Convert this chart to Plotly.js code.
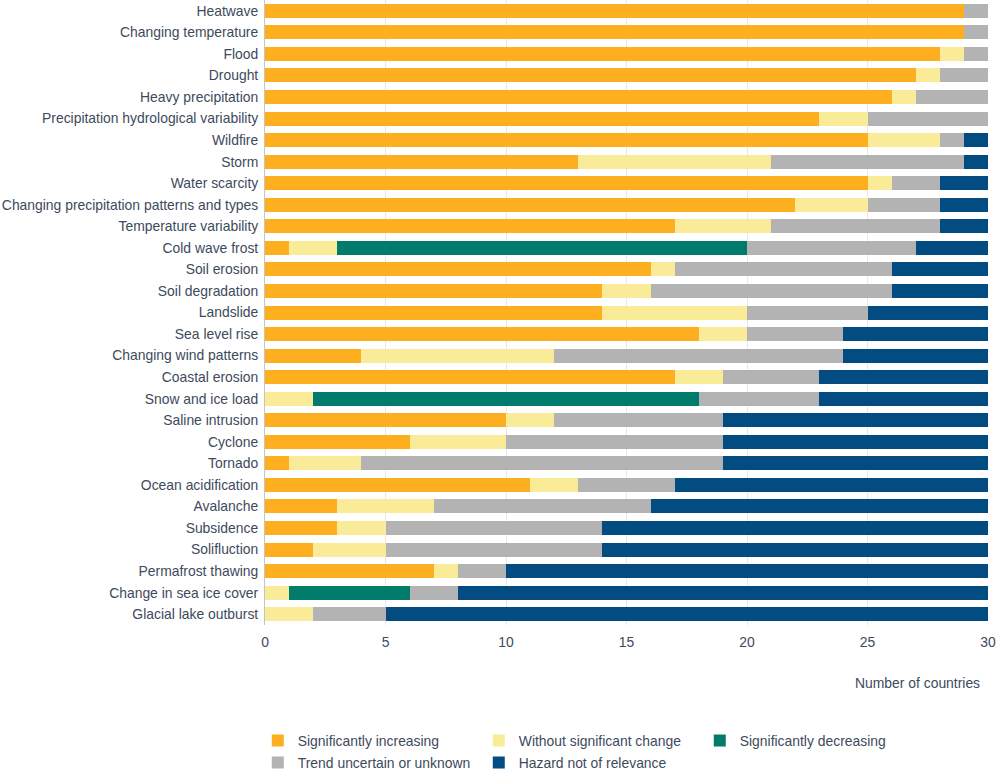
<!DOCTYPE html>
<html>
<head>
<meta charset="utf-8">
<script src="https://cdn.plot.ly/plotly-3.0.1.min.js"></script>
<style>html,body{margin:0;padding:0;background:#fff;}#chart{width:1000px;height:777px;}</style>
</head>
<body>
<div id="chart"></div>
<script>
var hazards = ["Heatwave","Changing temperature","Flood","Drought","Heavy precipitation","Precipitation hydrological variability","Wildfire","Storm","Water scarcity","Changing precipitation patterns and types","Temperature variability","Cold wave frost","Soil erosion","Soil degradation","Landslide","Sea level rise","Changing wind patterns","Coastal erosion","Snow and ice load","Saline intrusion","Cyclone","Tornado","Ocean acidification","Avalanche","Subsidence","Solifluction","Permafrost thawing","Change in sea ice cover","Glacial lake outburst"];
var sigIncreasing   = [29,29,28,27,26,23,25,13,25,22,17,1,16,14,14,18,4,17,0,10,6,1,11,3,3,2,7,0,0];
var withoutChange   = [0,0,1,1,1,2,3,8,1,3,4,2,1,2,6,2,8,2,2,2,4,3,2,4,2,3,1,1,2];
var sigDecreasing   = [0,0,0,0,0,0,0,0,0,0,0,17,0,0,0,0,0,0,16,0,0,0,0,0,0,0,0,5,0];
var trendUncertain  = [1,1,1,2,3,5,1,8,2,3,7,7,9,10,5,4,12,4,5,7,9,15,4,9,9,9,2,2,3];
var notRelevant     = [0,0,0,0,0,0,1,1,2,2,2,3,4,4,5,6,6,7,7,11,11,11,13,14,16,16,20,22,25];
var seriesNames = ["Significantly increasing","Without significant change","Significantly decreasing","Trend uncertain or unknown","Hazard not of relevance"];
var seriesColors = ["#feaf20","#faeb99","#007b6c","#b3b3b3","#024c81"];
var xTicks = [0,5,10,15,20,25,30];

var values = [sigIncreasing, withoutChange, sigDecreasing, trendUncertain, notRelevant];
var legendRow = ["legend","legend","legend","legend2","legend2"];
var traces = values.map(function(v, i){
  return {
    type: "bar", orientation: "h", x: v, y: hazards, name: seriesNames[i],
    legend: legendRow[i],
    marker: {color: seriesColors[i], line: {width: 0}},
    hoverinfo: "x+y+name"
  };
});

var textColor = "#3d4a5c";
var fs = 13.9;
var legendBase = {
  orientation: "h", x: -0.01, xanchor: "left", yanchor: "top",
  entrywidth: 176, entrywidthmode: "pixels", traceorder: "normal",
  font: {size: fs, color: textColor}, itemclick: false, itemdoubleclick: false,
  bgcolor: "rgba(0,0,0,0)"
};
var layout = {
  width: 1000, height: 777,
  barmode: "stack", bargap: 0.35,
  margin: {l: 265, r: 12, t: 0, b: 152, autoexpand: false},
  paper_bgcolor: "#fff", plot_bgcolor: "#fff",
  font: {family: "Liberation Sans, Arial, sans-serif", size: fs, color: textColor},
  xaxis: {
    range: [0, 30], tickvals: xTicks, ticktext: xTicks.map(String),
    showgrid: true, gridcolor: "#e8e8e8", gridwidth: 1, zeroline: false, showline: false,
    ticks: "", ticklabelstandoff: 7, tickfont: {size: fs, color: textColor}, fixedrange: true
  },
  yaxis: {
    type: "category", categoryorder: "array", categoryarray: hazards, autorange: "reversed",
    showline: true, linecolor: "#c4c4c4", linewidth: 1, showgrid: false, zeroline: false,
    ticks: "", ticklabelstandoff: 3, tickfont: {size: fs, color: textColor}, fixedrange: true
  },
  showlegend: true,
  legend: Object.assign({}, legendBase, {y: -0.1598}),
  legend2: Object.assign({}, legendBase, {y: -0.1950}),
  annotations: [{
    text: "Number of countries", xref: "paper", yref: "paper", x: 0.992, y: -0.093,
    xanchor: "right", yanchor: "middle", showarrow: false, font: {size: fs, color: textColor}
  }]
};
Plotly.newPlot("chart", traces, layout, {displayModeBar: false});
</script>
</body>
</html>
